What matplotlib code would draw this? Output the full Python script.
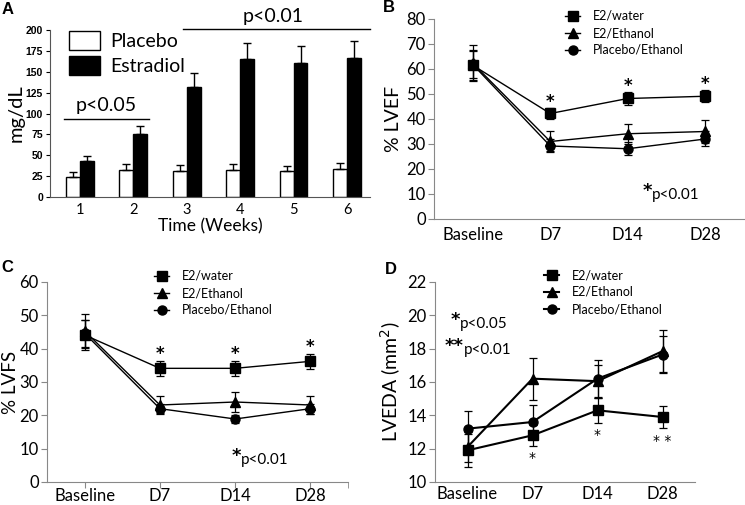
import matplotlib
matplotlib.use('Agg')
import matplotlib.pyplot as plt
import numpy as np

plt.rcParams['font.family'] = ['Lato', 'DejaVu Sans']

# panel A - serum estradiol
weeks = [1, 2, 3, 4, 5, 6]
placebo = [24, 32, 31, 32, 31, 33]
placebo_err = [6, 8, 7, 8, 6, 8]
estradiol = [43, 75, 132, 165, 160, 166]
estradiol_err = [6, 10, 17, 20, 21, 21]

# panels B-D
days = ['Baseline', 'D7', 'D14', 'D28']
groups = ['E2/water', 'E2/Ethanol', 'Placebo/Ethanol']

lvef = [[61.5, 42.2, 48.2, 49.1],
        [62.3, 31.0, 34.1, 35.0],
        [61.8, 29.2, 28.1, 32.0]]
lvef_err = [[6.0, 2.1, 2.5, 2.4],
            [7.2, 4.0, 4.0, 4.5],
            [5.5, 2.6, 2.5, 3.0]]

lvfs = [[44.1, 34.1, 34.1, 36.2],
        [45.3, 23.1, 24.0, 23.1],
        [44.6, 22.0, 18.9, 22.0]]
lvfs_err = [[4.5, 2.3, 2.3, 2.3],
            [5.2, 2.8, 2.9, 2.8],
            [4.0, 1.4, 1.3, 1.5]]

lveda = [[11.9, 12.8, 14.3, 13.9],
         [12.1, 16.2, 16.05, 17.85],
         [13.2, 13.6, 16.2, 17.65]]
lveda_err = [[1.0, 0.62, 0.75, 0.68],
             [0.9, 1.25, 1.0, 1.25],
             [1.05, 1.0, 1.1, 1.1]]

markers = ['s', '^', 'o']
W, H = 745, 505
STAR = 'DejaVu Sans'

fig = plt.figure(figsize=(W / 100, H / 100), dpi=100)


def box(l, r, top, bot):
    # pixel edges -> figure fraction
    return [l / W, 1 - bot / H, (r - l) / W, (bot - top) / H]


# ---------------- A ----------------
axA = fig.add_axes(box(50, 370, 30, 197))
x = np.array(weeks)
bw = 0.26
bP = axA.bar(x - bw / 2, placebo, bw, color='white', edgecolor='black', linewidth=1)
bE = axA.bar(x + bw / 2, estradiol, bw, color='black', edgecolor='black', linewidth=1)
axA.errorbar(x - bw / 2, placebo, yerr=[np.zeros(6), placebo_err], fmt='none',
             ecolor='black', elinewidth=1, capsize=3)
axA.errorbar(x + bw / 2, estradiol, yerr=[np.zeros(6), estradiol_err], fmt='none',
             ecolor='black', elinewidth=1, capsize=3)
axA.set_xlim(0.44, 6.43)
axA.set_ylim(0, 200)
axA.set_yticks(np.arange(0, 201, 25))
axA.set_yticklabels([str(v) for v in range(0, 201, 25)], fontsize=7.5,
                    fontweight='bold', family='Liberation Sans')
axA.set_xticks(weeks)
axA.set_xticklabels([str(w) for w in weeks], fontsize=10.5)
axA.tick_params(axis='x', length=0, pad=4)
axA.tick_params(axis='y', length=3, pad=2)
for s in ['top', 'right']:
    axA.spines[s].set_visible(False)
axA.spines['left'].set_color('#555555')
axA.spines['bottom'].set_color('#555555')
axA.set_ylabel('mg/dL', fontsize=14.5, labelpad=1)
axA.set_xlabel('Time (Weeks)', fontsize=12.5, labelpad=1)
axA.legend([bP, bE], ['Placebo', 'Estradiol'], loc='upper left', frameon=False,
           fontsize=14, bbox_to_anchor=(0.035, 1.04), handlelength=1.6,
           handleheight=1.1, labelspacing=0.3, borderaxespad=0, handletextpad=0.5)
axA.plot([0.7, 2.3], [93, 93], color='black', lw=1)
axA.text(1.5, 100, 'p<0.05', ha='center', va='bottom', fontsize=14)
axA.plot([2.93, 6.43], [201, 201], color='black', lw=1, clip_on=False)
axA.text(4.62, 206, 'p<0.01', ha='center', va='bottom', fontsize=14)


def line_panel(ax, vals, errs, ylim, ystep, ylabel, lw, lpad=3):
    pos = np.arange(len(days))
    handles = []
    for v, e, m in zip(vals, errs, markers):
        h = ax.errorbar(pos, v, yerr=e, color='black', marker=m, ms=6.5, lw=lw,
                        elinewidth=0.9, capsize=3, capthick=0.9)
        handles.append(h)
    ax.set_xlim(-0.5, 3.5)
    ax.set_ylim(*ylim)
    ax.set_yticks(np.arange(ylim[0], ylim[1] + 0.1, ystep))
    ax.set_xticks(pos)
    ax.set_xticklabels(days, fontsize=12)
    ax.tick_params(axis='y', labelsize=12, length=4, color='#888888', pad=2)
    for s in ['top', 'right']:
        ax.spines[s].set_visible(False)
    ax.spines['left'].set_color('#888888')
    ax.spines['bottom'].set_color('#888888')
    ax.set_ylabel(ylabel, fontsize=14, labelpad=lpad)
    return handles


def legend_at(ax, handles, x0, y0):
    # legend anchored at pixel position of first marker row
    ax.legend([h[0] for h in handles], groups, loc='upper left', frameon=False,
              fontsize=9, bbox_to_anchor=(x0 / W, 1 - y0 / H),
              bbox_transform=fig.transFigure, handlelength=1.2,
              handletextpad=1.0, labelspacing=0.4, borderaxespad=0,
              markerscale=1.0)


def star_above(ax, xi, top, s='*'):
    ax.annotate(s, (xi, top), xytext=(0, 4.5), textcoords='offset points',
                ha='center', va='center', fontsize=12, fontweight='bold', family=STAR)


def star_below(ax, xi, bottom, s='*'):
    ax.annotate(s, (xi, bottom), xytext=(0, -9), textcoords='offset points',
                ha='center', va='center', fontsize=10, family=STAR)


# ---------------- B ----------------
axB = fig.add_axes(box(434, 744, 19, 219))
hB = line_panel(axB, lvef, lvef_err, (0, 80), 10, '% LVEF', 1.0)
axB.tick_params(axis='x', length=0, pad=6)
legend_at(axB, hB, 560, 5)
for i in range(1, 4):
    star_above(axB, i, lvef[0][i] + lvef_err[0][i])
axB.text(2.31, 11.2, '*', ha='right', va='center', fontsize=13, fontweight='bold', family=STAR)
axB.text(2.31, 9.6, 'p<0.01', ha='left', va='center', fontsize=11)

# ---------------- C ----------------
axC = fig.add_axes(box(47, 348, 282, 482))
hC = line_panel(axC, lvfs, lvfs_err, (0, 60), 10, '% LVFS', 1.0, lpad=0.5)
axC.yaxis.label.set_fontsize(13.5)
axC.set_xticks([3.5], minor=True)
axC.tick_params(axis='x', which='both', length=4, color='#888888', pad=0.5)
legend_at(axC, hC, 149, 265)
for i in range(1, 4):
    star_above(axC, i, lvfs[0][i] + lvfs_err[0][i])
axC.text(2.08, 7.9, '*', ha='right', va='center', fontsize=13, fontweight='bold', family=STAR)
axC.text(2.08, 6.6, 'p<0.01', ha='left', va='center', fontsize=11)

# ---------------- D ----------------
axD = fig.add_axes(box(435, 695, 282, 482))
hD = line_panel(axD, lveda, lveda_err, (10, 22), 2, 'LVEDA (mm$^2$)', 1.5)
axD.tick_params(axis='x', length=0, pad=3)
legend_at(axD, hD, 539, 264)
dstars = ['', '*', '*', '* *']
for i in range(1, 4):
    star_below(axD, i, lveda[0][i] - lveda_err[0][i], dstars[i])
axD.text(-0.11, 19.75, '*', ha='right', va='center', fontsize=13, fontweight='bold', family=STAR)
axD.text(-0.11, 19.5, 'p<0.05', ha='left', va='center', fontsize=11)
axD.text(-0.06, 18.15, '**', ha='right', va='center', fontsize=13, fontweight='bold', family=STAR)
axD.text(-0.06, 17.9, 'p<0.01', ha='left', va='center', fontsize=11)

# panel letters
for lab, px, py in [('A', 8, 9), ('B', 389, 7), ('C', 7, 268), ('D', 391, 270)]:
    fig.text(px / W, 1 - py / H, lab, fontsize=12, fontweight='bold',
             ha='center', va='center', family='Liberation Sans')

fig.savefig('out.png', dpi=100)
